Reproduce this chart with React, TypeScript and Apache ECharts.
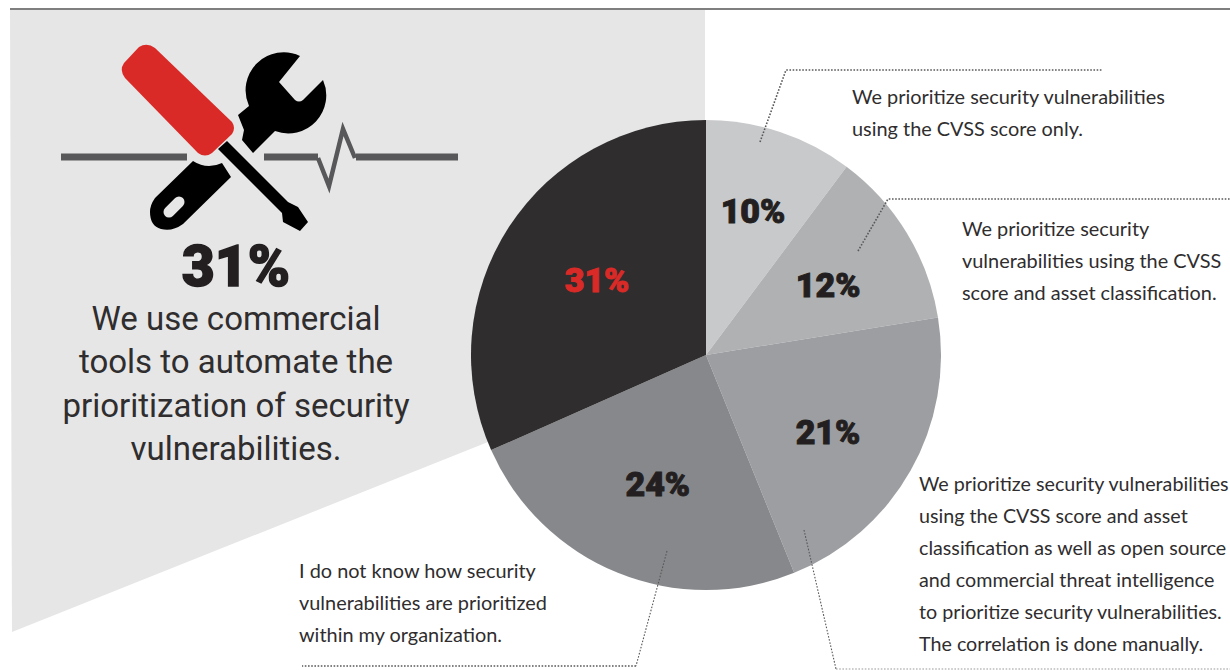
import React, { useEffect, useRef } from "react";
import * as echarts from "echarts";

const categories = [
  "We prioritize security vulnerabilities using the CVSS score only.",
  "We prioritize security vulnerabilities using the CVSS score and asset classification.",
  "We prioritize security vulnerabilities using the CVSS score and asset classification as well as open source and commercial threat intelligence to prioritize security vulnerabilities. The correlation is done manually.",
  "I do not know how security vulnerabilities are prioritized within my organization.",
  "We use commercial tools to automate the prioritization of security vulnerabilities.",
];
const shares = [10, 12, 21, 24, 31];
const sliceColors = ["#c8c9cb", "#b0b1b3", "#9d9ea1", "#87888b", "#2f2d2e"];
const labelColors = ["#231f20", "#231f20", "#231f20", "#231f20", "#d92a27"];
const labelOffsets = [[9, -30], [19, -8], [17, 18], [-3, 17], [-8, -9]];

const headline = "31%";
const headlineLines = ["We use commercial", "tools to automate the", "prioritization of security", "vulnerabilities."];
const noteOne = ["We prioritize security vulnerabilities", "using the CVSS score only."];
const noteTwo = ["We prioritize security", "vulnerabilities using the CVSS", "score and asset classification."];
const noteThree = [
  "We prioritize security vulnerabilities",
  "using the CVSS score and asset",
  "classification as well as open source",
  "and commercial threat intelligence",
  "to prioritize security vulnerabilities.",
  "The correlation is done manually.",
];
const noteFour = ["I do not know how security", "vulnerabilities are prioritized", "within my organization."];

echarts.graphic.registerShape("driverHandle", echarts.graphic.extendPath(
  "M139 47 Q147 42 155 48 L232 122 Q236 128 232 134 L212 153 Q205 158 198 153 L125 78 Q119 70 124 63 Z", {}));
echarts.graphic.registerShape("driverShaft", echarts.graphic.extendPath(
  "M227 141 L218 149 L282 213 L283 222 L300 231 L308 222 L298 207 L288 202 Z", {}));
echarts.graphic.registerShape("wrenchHead", echarts.graphic.extendPath(
  "M238 115 L249 106 A38 38 0 0 1 300 56 L279 82 L295 100 Q299 103 303 100 L323 80 A38 38 0 0 1 275 131 L253 153 L242 140 L244 130 Z", {}));
echarts.graphic.registerShape("wrenchGrip", echarts.graphic.extendPath(
  "M193 161 Q207 170 222 163 L231 177 L183 224 Q172 232 161 229 Q150 226 150 212 Q150 205 155 198 Z", {}));

const INK = "#2f2d2e";
const NOTE_FONT = "Lato";

function textBlock(lines: string[], x: number, ys: number[], font: object) {
  return lines.map((line, i) => ({
    type: "text",
    x,
    y: ys[i],
    z: 20,
    style: { text: line, fill: INK, verticalAlign: "middle", ...font },
  }));
}

function leader(points: number[][], lineWidth = 1.6, stroke = "#58585a") {
  return {
    type: "polyline",
    z: 30,
    shape: { points },
    style: { fill: "none", stroke, lineWidth, lineDash: [1.6, 1.6] },
  };
}

export default function App() {
  const ref = useRef<HTMLDivElement>(null);

  useEffect(() => {
    const chart = echarts.init(ref.current!, null, { renderer: "svg" });
    const noteFont = { fontFamily: NOTE_FONT, fontSize: 19.9 };
    const longNoteFont = { fontFamily: NOTE_FONT, fontSize: 19.7 };
    const headFont = { fontFamily: "Roboto", fontSize: 33, textAlign: "center" };

    chart.setOption({
      animation: false,
      backgroundColor: "#ffffff",
      series: [
        {
          type: "pie",
          center: [706, 355],
          radius: [0, 235],
          startAngle: 90,
          clockwise: true,
          silent: true,
          labelLine: { show: false },
          data: shares.map((value, i) => ({
            name: categories[i],
            value,
            itemStyle: { color: sliceColors[i] },
            label: {
              show: true,
              position: "inside",
              offset: labelOffsets[i],
              formatter: "{c}%",
              color: labelColors[i],
              fontFamily: "Roboto",
              fontWeight: 900,
              fontSize: 34,
              textBorderColor: labelColors[i],
              textBorderWidth: 1,
            },
          })),
        },
      ],
      graphic: [
        {
          type: "polygon",
          z: -10,
          shape: { points: [[10, 10], [705, 10], [705, 355], [488, 442], [12, 632]] },
          style: { fill: "#e6e6e6" },
        },
        { type: "rect", z: 5, shape: { x: 10, y: 8, width: 1220, height: 2 }, style: { fill: "#7f7f7f" } },

        // heartbeat trace behind the tools
        { type: "rect", z: 5, shape: { x: 61, y: 153.5, width: 126, height: 7 }, style: { fill: "#58585a" } },
        { type: "rect", z: 5, shape: { x: 264, y: 153.5, width: 54, height: 7 }, style: { fill: "#58585a" } },
        { type: "rect", z: 5, shape: { x: 356, y: 153.5, width: 102, height: 7 }, style: { fill: "#58585a" } },
        {
          type: "polyline",
          z: 5,
          shape: { points: [[318, 158], [329, 186], [343, 129], [355, 158]] },
          style: { fill: "none", stroke: "#58585a", lineWidth: 4.5 },
        },

        // crossed screwdriver and wrench
        { type: "wrenchHead", z: 6, style: { fill: "#000000" } },
        { type: "wrenchGrip", z: 6, style: { fill: "#000000" } },
        { type: "driverShaft", z: 6, style: { fill: "#000000" } },
        { type: "driverHandle", z: 7, style: { fill: "#d92a27" } },
        {
          type: "line",
          z: 7,
          shape: { x1: 169, y1: 212, x2: 179, y2: 202 },
          style: { stroke: "#e6e6e6", lineWidth: 11, lineCap: "round" },
        },

        {
          type: "text",
          x: 236,
          y: 266,
          z: 20,
          style: {
            text: headline,
            fill: "#231f20",
            stroke: "#231f20",
            lineWidth: 1.5,
            fontFamily: "Roboto",
            fontWeight: 900,
            fontSize: 57,
            textAlign: "center",
            verticalAlign: "middle",
          },
        },
        ...textBlock(headlineLines, 236, [318, 361, 405, 448], headFont),
        ...textBlock(noteOne, 852, [96, 128], noteFont),
        ...textBlock(noteTwo, 962, [228, 260, 292], noteFont),
        ...textBlock(noteThree, 919, [483, 515, 547, 579, 611, 643], longNoteFont),
        ...textBlock(noteFour, 299, [570, 602, 634], noteFont),

        // dotted leaders from slices to notes
        leader([[760, 142], [786, 70], [1103, 70]]),
        leader([[858, 251], [888, 199], [1230, 199]]),
        leader([[804, 530], [836, 669]], 1.1),
        leader([[836, 669], [1230, 669]], 1.1, "#9a9a9a"),
        leader([[667, 551], [636, 666]], 1.1),
        leader([[636, 666], [302, 666]]),
      ],
    });
    return () => chart.dispose();
  }, []);

  return (
    <div
      ref={ref}
      style={{ position: "fixed", left: 0, top: 0, width: 1230, height: 670 }}
    />
  );
}
